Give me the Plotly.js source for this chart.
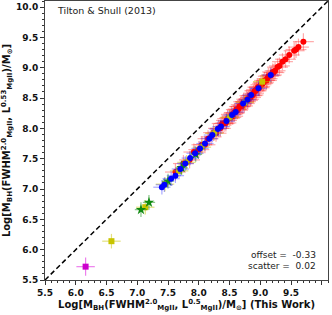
<!DOCTYPE html>
<html>
<head>
<meta charset="utf-8">
<script src="https://cdn.plot.ly/plotly-3.0.1.min.js"></script>
<style>html,body{margin:0;padding:0;background:#fff;}#chart{width:332px;height:315px;}</style>
</head>
<body>
<div id="chart"></div>
<script>
// Red sample
const redX = [7.62,7.75,7.85,7.92,8.00,8.05,8.10,8.15,8.20,8.24,8.28,8.32,8.35,8.38,8.41,8.44,8.47,8.50,8.53,8.55,8.58,8.61,8.63,8.66,8.68,8.71,8.73,8.76,8.78,8.81,8.83,8.86,8.88,8.91,8.93,8.96,8.98,9.01,9.04,9.07,9.10,9.13,9.16,9.20,9.24,9.28,9.36,9.41,9.47,9.55,9.58,9.62,9.70,8.45,8.52,8.57,8.64,8.69,8.74,8.79,8.84,8.89,8.94,8.99,9.05,9.11,9.18,9.22,9.31];
const redY = [7.28,7.42,7.48,7.61,7.65,7.73,7.73,7.83,7.86,7.93,7.92,8.00,8.00,8.08,8.08,8.09,8.16,8.17,8.23,8.20,8.26,8.31,8.30,8.36,8.36,8.37,8.44,8.44,8.48,8.48,8.54,8.54,8.55,8.62,8.62,8.68,8.67,8.72,8.74,8.79,8.79,8.86,8.87,8.93,8.95,9.01,9.10,9.14,9.21,9.28,9.30,9.34,9.43,8.13,8.18,8.25,8.32,8.39,8.41,8.46,8.51,8.58,8.64,8.69,8.76,8.82,8.88,8.92,9.03];
// Blue sample
const blueX = [7.40,7.44,7.55,7.62,7.70,7.78,7.86,7.94,8.02,8.10,8.17,8.22,8.31,8.36,8.45,8.54,8.60,8.72,8.79,8.85,8.97,9.17];
const blueY = [7.03,7.07,7.17,7.22,7.33,7.42,7.51,7.59,7.67,7.75,7.83,7.89,7.99,8.03,8.12,8.22,8.27,8.41,8.47,8.55,8.66,8.88];
// Yellow sample
const yellowX = [6.58,7.13,7.45,7.68,7.80,8.05,8.25,8.50,8.75,9.03];
const yellowY = [6.14,6.70,7.08,7.30,7.44,7.69,7.92,8.18,8.43,8.77];
// Green sample
const greenX = [7.06,7.19,7.50,7.72,7.95];
const greenY = [6.66,6.78,7.13,7.35,7.57];
// Magenta sample
const magX = [6.16];
const magY = [5.72];
// one-to-one line
const lineX = [5.5,10.1];
const lineY = [5.5,10.1];

function errTrace(x, y, color, ecolor, symbol, size, ex, ey) {
  return {
    x: x, y: y, type: 'scatter', mode: 'markers',
    marker: {color: color, symbol: symbol, size: size, line: {width: 0}},
    error_x: {type: 'constant', value: ex, color: ecolor, thickness: 1.2, width: 0},
    error_y: {type: 'constant', value: ey, color: ecolor, thickness: 1.2, width: 0},
    hoverinfo: 'skip'
  };
}

const traces = [
  {x: lineX, y: lineY, type: 'scatter', mode: 'lines', line: {color: 'black', dash: '5px,3px', width: 1.5}, hoverinfo: 'skip'},
  errTrace(redX, redY, '#ff0000', 'rgba(255,40,40,0.4)', 'circle', 6, 0.17, 0.14),
  errTrace(yellowX, yellowY, '#c8c400', 'rgba(200,196,0,0.5)', 'square', 6, 0.15, 0.12),
  errTrace(greenX, greenY, '#108a10', 'rgba(16,138,16,0.5)', 'star', 8, 0.1, 0.12),
  errTrace(blueX, blueY, '#0000ff', 'rgba(40,40,255,0.4)', 'circle', 6, 0.14, 0.12),
  errTrace(magX, magY, '#cc00cc', 'rgba(220,0,220,0.5)', 'square', 6, 0.15, 0.15)
];

const axisCommon = {
  range: [5.5, 10.1], dtick: 0.5, tick0: 5.5, tickformat: '.1f',
  ticks: 'outside', ticklen: 4, tickwidth: 1, tickcolor: '#333',
  showline: true, linecolor: '#444', linewidth: 1, mirror: true,
  showgrid: false, zeroline: false,
  tickfont: {family: 'DejaVu Sans', size: 9, color: '#111', weight: 'bold'},
  minor: {dtick: 0.1, ticklen: 2, tickcolor: '#333', ticks: 'outside', showgrid: false}
};

const layout = {
  width: 332, height: 315,
  margin: {l: 45, r: 4, t: 1, b: 35},
  paper_bgcolor: '#fff', plot_bgcolor: '#fff',
  showlegend: false,
  xaxis: Object.assign({}, axisCommon, {
    title: {text: 'Log[M<sub>BH</sub>(FWHM<sup>2.0</sup><sub>MgII</sub>, L<sup>0.5</sup><sub>MgII</sub>)/M<sub>\u2299</sub>] (This Work)', font: {family: 'DejaVu Sans', size: 10, color: '#111', weight: 'bold'}, standoff: 4}
  }),
  yaxis: Object.assign({}, axisCommon, {
    title: {text: 'Log[M<sub>BH</sub>(FWHM<sup>2.0</sup><sub>MgII</sub>, L<sup>0.53</sup><sub>MgII</sub>)/M<sub>\u2299</sub>]', font: {family: 'DejaVu Sans', size: 10, color: '#111', weight: 'bold'}, standoff: 4}
  }),
  annotations: [
    {xref: 'paper', yref: 'paper', x: 0.035, y: 0.965, xanchor: 'left', yanchor: 'middle', showarrow: false,
     text: 'Tilton & Shull (2013)', font: {family: 'DejaVu Sans', size: 9.5, color: '#222'}},
    {xref: 'paper', yref: 'paper', x: 0.965, y: 0.09, xanchor: 'right', yanchor: 'middle', showarrow: false,
     text: 'offset =  -0.33', font: {family: 'DejaVu Sans', size: 9, color: '#222'}},
    {xref: 'paper', yref: 'paper', x: 0.965, y: 0.05, xanchor: 'right', yanchor: 'middle', showarrow: false,
     text: 'scatter =  0.02', font: {family: 'DejaVu Sans', size: 9, color: '#222'}}
  ]
};

Plotly.newPlot('chart', traces, layout, {staticPlot: true, displayModeBar: false});
</script>
</body>
</html>
